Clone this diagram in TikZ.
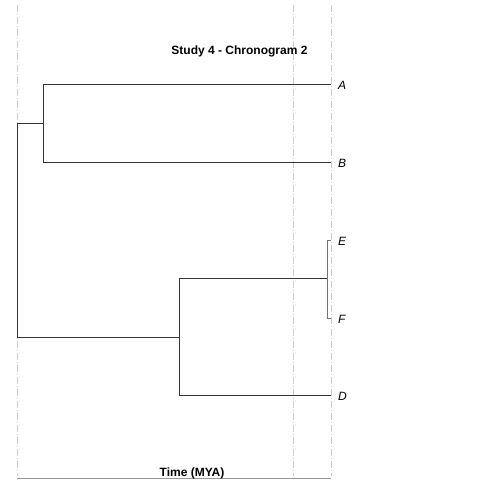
\documentclass[tikz,border=0pt]{standalone}
\usepackage{fontspec}
\setmainfont{Liberation Sans}
\begin{document}
\begin{tikzpicture}[x=1pt,y=-1pt,
  branch/.style={draw=black!80,line width=0.9pt},
  grid/.style={draw=black!20,line width=0.8pt,dash pattern=on 7pt off 2pt on 1pt off 2pt},
  tip/.style={anchor=west,inner sep=0pt,font=\fontsize{12}{14}\selectfont\itshape},
  ttl/.style={inner sep=0pt,font=\fontsize{12}{14}\selectfont\bfseries}]
\useasboundingbox (0,0) rectangle (480,480);
% grid lines
\coordinate (g1t) at (17,5); \coordinate (g1b) at (17,476);
\coordinate (g2t) at (293,5); \coordinate (g2b) at (293,476);
\coordinate (g3t) at (331,5); \coordinate (g3b) at (331,476);
\draw[grid] (g1t) -- (g1b);
\draw[grid] (g2t) -- (g2b);
\draw[grid] (g3t) -- (g3b);
\coordinate (axl) at (17,478.5); \coordinate (axr) at (331,478.5);
\draw[draw=black!40,line width=0.8pt] (axl) -- (axr);
% nodes
\coordinate (root) at (17,123);
\coordinate (root2) at (17,337);
\coordinate (nAB) at (43,123);
\coordinate (nABt) at (43,84);
\coordinate (nABb) at (43,162);
\coordinate (nDEF) at (179,337);
\coordinate (nDEFt) at (179,278);
\coordinate (nDEFb) at (179,395);
\coordinate (nEF) at (327,278);
\coordinate (nEFt) at (327,240);
\coordinate (nEFb) at (327,318);
\coordinate (tA) at (331,84);
\coordinate (tB) at (331,162);
\coordinate (tE) at (331,240);
\coordinate (tF) at (331,318);
\coordinate (tD) at (331,395);
\draw[branch] (root) -- (root2);
\draw[branch] (root) -- (nAB);
\draw[branch] (nABt) -- (nABb);
\draw[branch] (nABt) -- (tA);
\draw[branch] (nABb) -- (tB);
\draw[branch] (root2) -- (nDEF);
\draw[branch] (nDEFt) -- (nDEFb);
\draw[branch] (nDEFt) -- (nEF);
\draw[branch] (nDEFb) -- (tD);
\draw[branch,draw=black!55] (nEFt) -- (nEFb);
\draw[branch,draw=black!55] (nEFt) -- (tE);
\draw[branch,draw=black!55] (nEFb) -- (tF);
% labels
\node[tip] (lA) at (338,85) {A};
\node[tip] (lB) at (338,163) {B};
\node[tip] (lE) at (338,241) {E};
\node[tip] (lF) at (338,319) {F};
\node[tip] (lD) at (338,396) {D};
\node[ttl] (title) at (239.5,51) {Study 4 - Chronogram 2};
\node[ttl] (xlab) at (192,473.5) {Time (MYA)};
\end{tikzpicture}
\end{document}
